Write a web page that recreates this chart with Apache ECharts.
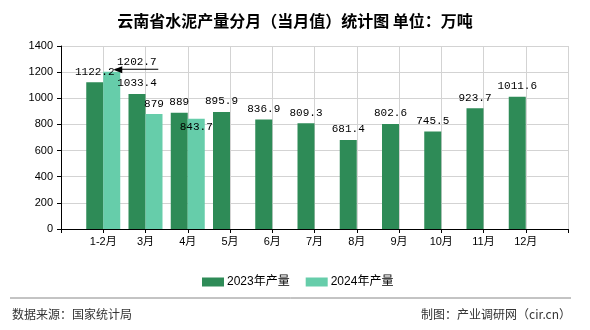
<!DOCTYPE html>
<html>
<head>
<meta charset="utf-8">
<script src="https://cdn.jsdelivr.net/npm/echarts@6/dist/echarts.min.js"></script>
<style>
html,body{margin:0;padding:0;background:#fff;}
#chart{width:590px;height:330px;}
</style>
</head>
<body>
<div id="chart"></div>
<script>
var title = '云南省水泥产量分月（当月值）统计图 单位：万吨';
var categories = ['1-2月','3月','4月','5月','6月','7月','8月','9月','10月','11月','12月'];
var seriesNames = ['2023年产量','2024年产量'];
var values2023 = [1122.2, 1033.4, 889, 895.9, 836.9, 809.3, 681.4, 802.6, 745.5, 923.7, 1011.6];
var values2024 = [1202.7, 879, 843.7, null, null, null, null, null, null, null, null];
var yTicks = [0, 200, 400, 600, 800, 1000, 1200, 1400];
var sourceText = '数据来源：国家统计局';
var makerText = '制图：产业调研网（cir.cn）';

var axisCats = [''].concat(categories).concat(['']);
function pad(arr){ return [null].concat(arr).concat([null]); }

var labelFont = {fontFamily:'Liberation Mono, monospace', fontSize:11, color:'#000'};

var d2024 = pad(values2024).map(function(v, i){
  if (v === null) return null;
  if (i === 1) return {value:v, label:{position:'top', distance:2, offset:[25,0],
    formatter:'{v|{c}}\n{u|}',
    rich:{v:{fontFamily:'Liberation Mono, monospace', fontSize:11, color:'#000', align:'center', lineHeight:13},
          u:{width:43, height:1, backgroundColor:'#000', align:'center'}}}};
  if (i === 3) return {value:v, label:{position:'insideTop', distance:3}};
  return v;
});

var chart = echarts.init(document.getElementById('chart'));
chart.setOption({
  animation:false,
  backgroundColor:'#fff',
  title:{text:title, left:'center', top:8,
    textStyle:{fontSize:16, fontWeight:'bold', color:'#000', fontFamily:'Noto Sans CJK SC'}},
  legend:{data:seriesNames, left:197, top:271, itemWidth:22, itemHeight:9, itemGap:16,
    icon:'rect',
    textStyle:{fontSize:12, color:'#000', fontFamily:'Liberation Sans, Noto Sans CJK SC', padding:[0,0,0,-2]}},
  grid:{left:61, right:22, top:46, bottom:101, containLabel:false},
  xAxis:{type:'category', data:axisCats, boundaryGap:false,
    axisLine:{lineStyle:{color:'#000', width:1}},
    axisTick:{show:true, interval:0, length:4, lineStyle:{color:'#000'}},
    axisLabel:{interval:0, margin:7, color:'#000', fontSize:11, fontFamily:'Liberation Sans, Noto Sans CJK SC'},
    splitLine:{show:true, interval:0, lineStyle:{color:'#d3d3d3', width:1}}},
  yAxis:{type:'value', min:yTicks[0], max:yTicks[yTicks.length-1], interval:200,
    axisLine:{show:true, lineStyle:{color:'#000', width:1}},
    axisTick:{show:true, length:4, lineStyle:{color:'#000'}},
    axisLabel:{margin:8, color:'#000', fontSize:11, fontFamily:'Liberation Sans',
      formatter:function(v){ return String(v); }},
    splitLine:{show:true, lineStyle:{color:'#d3d3d3', width:1}}},
  series:[
    {name:seriesNames[0], type:'bar', data:pad(values2023), barWidth:17, barGap:'0%',
      itemStyle:{color:'#2E8B57'},
      label:Object.assign({show:true, position:'top', distance:5}, labelFont)},
    {name:seriesNames[1], type:'bar', data:d2024, barWidth:17, barGap:'0%',
      itemStyle:{color:'#66CDAA'},
      label:Object.assign({show:true, position:'top', distance:5}, labelFont),
      markPoint:{silent:true, symbol:'triangle', symbolSize:[7,9], symbolRotate:90,
        itemStyle:{color:'#000'}, label:{show:false},
        data:[{coord:[axisCats[1], values2024[0]], symbolOffset:[6,-2]}]}}
  ],
  graphic:[
    {type:'line', shape:{x1:10, y1:298, x2:571, y2:298}, style:{stroke:'#888', lineWidth:1}},
    {type:'text', left:12, top:308, style:{text:sourceText, fontSize:12, fill:'#333', fontFamily:'Noto Sans CJK SC'}},
    {type:'text', right:19, top:308, style:{text:makerText, fontSize:12, fill:'#333', fontFamily:'Noto Sans CJK SC'}}
  ]
});
</script>
</body>
</html>
